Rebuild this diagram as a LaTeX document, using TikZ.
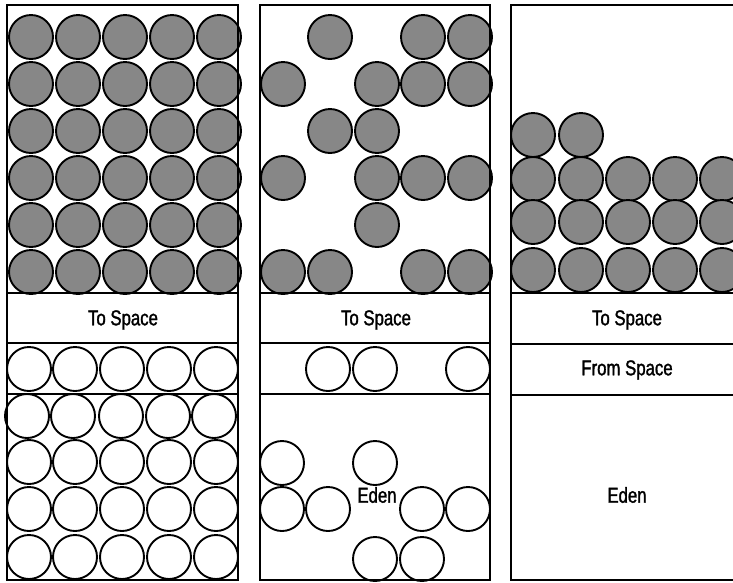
\documentclass[tikz,border=0pt]{standalone}
\usepackage{fontspec}
\setmainfont[FakeStretch=0.78,FakeBold=1.4]{Liberation Sans}
\begin{document}
\begin{tikzpicture}[x=1pt,y=-1pt,
  frame/.style={line width=2.2pt,black},
  full/.style={draw=black,line width=1.9pt,fill={rgb,255:red,135;green,135;blue,135}},
  empty/.style={draw=black,line width=1.9pt,fill=none},
  lbl/.style={font=\fontsize{21.5}{25}\selectfont,inner sep=0pt}]
\useasboundingbox (0,0) rectangle (733,582);
\clip (0,0) rectangle (733,582);
% ---------- panel 1 ----------
\foreach \y in {37,84,131,178,225,272}
  \foreach \x in {31,78,125,172,219}
    \draw[full] (\x,\y) circle (22);
\foreach \x in {29,75,122,169,216}
  \draw[empty] (\x,369) circle (22);
\foreach \x in {27,73,121,168,214}
  \draw[empty] (\x,416) circle (22);
\foreach \y in {462,509,557}
  \foreach \x in {29,75,122,169,216}
    \draw[empty] (\x,\y) circle (22);
\draw[frame] (7,5) rectangle (238,580);
\draw[frame] (7,293) -- (238,293);
\draw[frame] (7,343) -- (238,343);
\draw[frame] (7,394) -- (238,394);
\node[lbl] (to1) at (123,320) {To Space};
% ---------- panel 2 ----------
\foreach \x/\y in {330/37,423/37,470/37,
                   283/84,377/84,423/84,470/84,
                   330/131,377/131,
                   283/178,377/178,423/178,470/178,
                   377/225,
                   283/272,330/272,423/272,470/272}
  \draw[full] (\x,\y) circle (22);
\foreach \x in {328,375,468}
  \draw[empty] (\x,369) circle (22);
\foreach \x/\y in {282/463,375/463,
                   282/509,328/509,422/509,468/509,
                   375/559,422/559}
  \draw[empty] (\x,\y) circle (22);
\draw[frame] (260,5) rectangle (490,580);
\draw[frame] (260,293) -- (490,293);
\draw[frame] (260,343) -- (490,343);
\draw[frame] (260,394) -- (490,394);
\node[lbl] (to2) at (376,320) {To Space};
\node[lbl] (eden2) at (377,495) {Eden};
% ---------- panel 3 ----------
\foreach \x in {533,581}
  \draw[full] (\x,135) circle (22);
\foreach \y in {179,222,270}
  \foreach \x in {533,581,628,675,722}
    \draw[full] (\x,\y) circle (22);
\draw[frame] (511,5) rectangle (760,580);
\draw[frame] (511,293) -- (760,293);
\draw[frame] (511,344) -- (760,344);
\draw[frame] (511,395) -- (760,395);
\node[lbl] (to3) at (627,320) {To Space};
\node[lbl] (from3) at (627,370) {From Space};
\node[lbl] (eden3) at (627,495) {Eden};
\end{tikzpicture}
\end{document}
